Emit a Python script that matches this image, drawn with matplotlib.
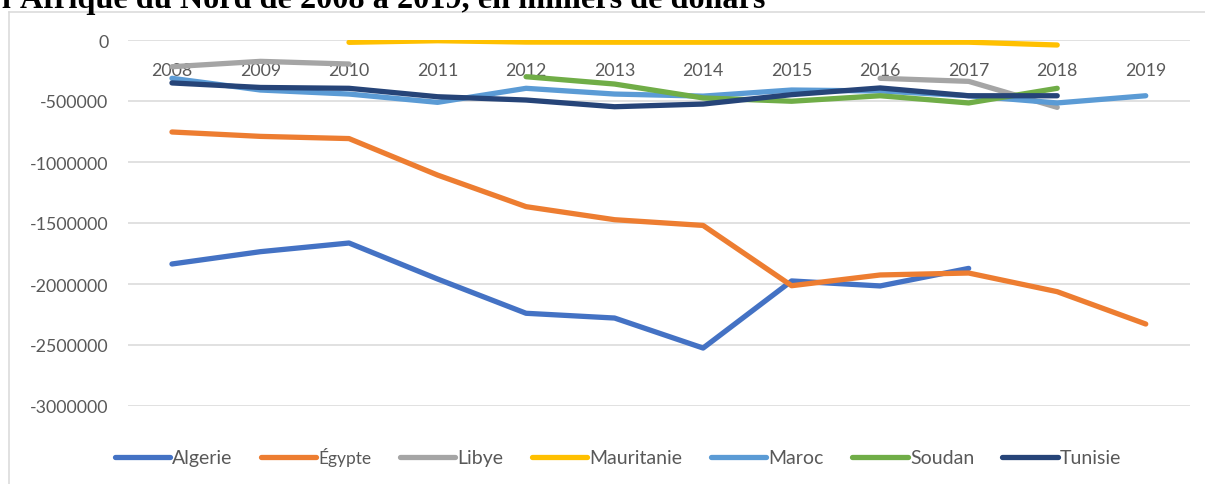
import numpy as np
import matplotlib
matplotlib.use("Agg")
from matplotlib import pyplot as plt
from matplotlib.lines import Line2D

# years and balances (milliers de dollars), nan = no data
years = ["2008", "2009", "2010", "2011", "2012", "2013", "2014", "2015", "2016", "2017", "2018", "2019"]
nan = np.nan
algerie = [-1836000, -1735000, -1664000, -1959000, -2240000, -2279000, -2525000, -1975000, -2016000, -1872000, nan, nan]
egypte = [-754000, -790000, -808000, -1107000, -1366000, -1473000, -1520000, -2014000, -1926000, -1910000, -2063000, -2328000]
libye = [-219000, -175000, -197000, nan, nan, nan, nan, nan, -314000, -339000, -552000, nan]
mauritanie = [nan, nan, -19000, -6000, -17000, -18000, -18000, -18000, -18000, -18000, -41000, nan]
maroc = [-314000, -410000, -443000, -511000, -396000, -443000, -460000, -410000, -418000, -457000, -516000, -457000]
soudan = [nan, nan, nan, nan, -301000, -361000, -475000, -502000, -457000, -516000, -396000, nan]
tunisie = [-352000, -389000, -396000, -465000, -492000, -547000, -525000, -448000, -393000, -457000, -457000, nan]

names = ["Algerie", "Égypte", "Libye", "Mauritanie", "Maroc", "Soudan", "Tunisie"]
series = [algerie, egypte, libye, mauritanie, maroc, soudan, tunisie]
colors = ["#4472C4", "#ED7D31", "#A5A5A5", "#FFC000", "#5B9BD5", "#70AD47", "#264478"]

plt.rcParams["font.family"] = ["Lato", "DejaVu Sans"]

fig = plt.figure(figsize=(12.05, 4.85), dpi=100)
ax = fig.add_axes([127.7 / 1205, 1 - 407 / 485, (1190 - 127.7) / 1205, (407 - 41) / 485])

x = np.arange(len(years))
for vals, name, c in zip(series, names, colors):
    ax.plot(x, vals, color=c, lw=3.8, solid_capstyle="round", solid_joinstyle="round", label=name)

ax.set_xlim(-0.5, len(years) - 0.5)
ax.set_ylim(-3000000, 0)
ax.set_yticks(np.arange(-3000000, 1, 500000))
ax.set_yticklabels([str(v) for v in np.arange(-3000000, 1, 500000)])
ax.grid(axis="y", color="#d9d9d9", lw=1.1)
ax.set_axisbelow(True)
for s in ax.spines.values():
    s.set_visible(False)

ax.xaxis.tick_top()
ax.set_xticks(x)
ax.set_xticklabels(years)
ax.tick_params(axis="x", length=0, pad=-27, labelsize=12.8, labelcolor="#595959")
ax.tick_params(axis="y", length=0, pad=14, labelsize=12.8, labelcolor="#595959")

leg = ax.legend(loc="center", bbox_to_anchor=(618 / 1205, 1 - 458 / 485), bbox_transform=fig.transFigure,
                ncol=7, frameon=False, fontsize=14, handlelength=2.85, handletextpad=0.12,
                columnspacing=1.45, labelcolor="#595959")
for t in leg.get_texts():
    if t.get_text() == "Égypte":
        t.set_fontsize(12.5)

# chart border (partly outside the image)
fy = 1 - 12.5 / 485
fx = 9 / 1205
fig.add_artist(Line2D([fx, fx], [0, fy], transform=fig.transFigure, color="#d9d9d9", lw=1.1))
fig.add_artist(Line2D([fx, 1], [fy, fy], transform=fig.transFigure, color="#d9d9d9", lw=1.1))

# title, cut off at top like the source
fig.text(2 / 1205, 1 - 8 / 485, "l'Afrique du Nord de 2008 à 2019, en milliers de dollars",
         family="Liberation Serif", weight="bold", fontsize=23.2, va="baseline", ha="left", color="black")

fig.savefig("out.png", dpi=100)
